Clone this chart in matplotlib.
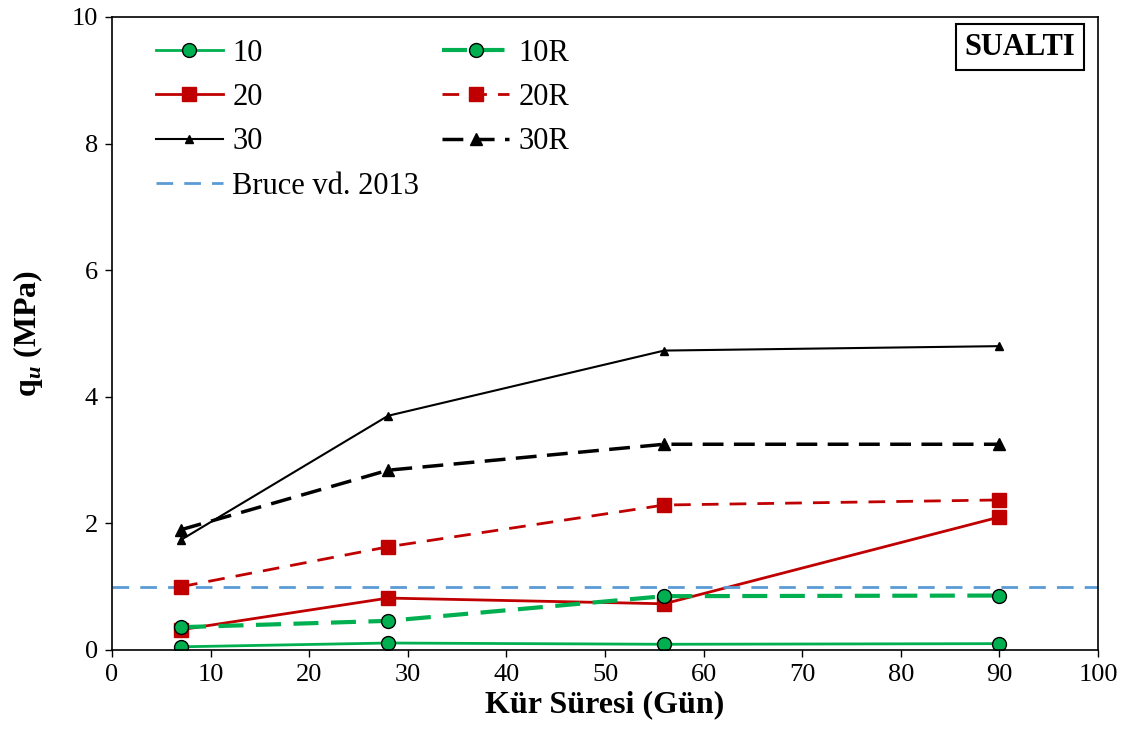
import matplotlib
matplotlib.use("Agg")
import matplotlib.pyplot as plt

plt.rcParams["font.family"] = ["Liberation Serif", "DejaVu Serif"]
plt.rcParams["mathtext.fontset"] = "custom"
plt.rcParams["mathtext.rm"] = "Liberation Serif"
plt.rcParams["mathtext.bf"] = "Liberation Serif:bold"
plt.rcParams["mathtext.bfit"] = "Liberation Serif:italic:bold"

days = [7, 28, 56, 90]
q_10 = [0.05, 0.11, 0.09, 0.10]
q_10r = [0.36, 0.46, 0.85, 0.86]
q_20 = [0.32, 0.82, 0.73, 2.10]
q_20r = [1.00, 1.63, 2.29, 2.37]
q_30 = [1.74, 3.70, 4.73, 4.80]
q_30r = [1.90, 2.84, 3.25, 3.25]
bruce = 1.0

green = "#00B050"
red = "#C00000"
blue = "#5B9BD5"

fig = plt.figure(figsize=(11.28, 7.29), dpi=100)
ax = fig.add_axes([0.0993, 0.1084, 0.8741, 0.8683])

ax.plot(days, q_10, color=green, lw=2, marker="o", ms=10, mfc=green, mec="black", mew=1, label="10")
ax.plot(days, q_20, color=red, lw=2, marker="s", ms=10, mfc=red, mec=red, label="20")
ax.plot(days, q_30, color="black", lw=1.5, marker="^", ms=6, label="30")
ax.axhline(bruce, color=blue, lw=2, dashes=(6, 4), label="Bruce vd. 2013")
ax.plot(days, q_10r, color=green, lw=3, dashes=(6, 3), marker="o", ms=10, mfc=green, mec="black", mew=1, label="10R")
ax.plot(days, q_20r, color=red, lw=2, dashes=(6, 4), marker="s", ms=10, mfc=red, mec=red, label="20R")
ax.plot(days, q_30r, color="black", lw=2.5, dashes=(6, 3), marker="^", ms=8, label="30R")

ax.set_xlim(0, 100)
ax.set_ylim(0, 10)
ax.set_xticks(range(0, 101, 10))
ax.set_yticks(range(0, 11, 2))
ax.tick_params(direction="out", labelsize=19, length=5, width=1, pad=5)
for s in ax.spines.values():
    s.set_linewidth(1.2)

ax.set_xlabel("Kür Süresi (Gün)", fontsize=23, fontweight="bold", labelpad=3)
ax.set_ylabel(r"$\mathbf{q}_\mathbfit{u}$ (MPa)", fontsize=23, fontweight="bold", labelpad=19)

ax.legend(ncol=2, loc="upper left", frameon=False, fontsize=22, handlelength=2.2,
          handletextpad=0.3, columnspacing=0.75, labelspacing=0.5,
          borderaxespad=0, bbox_to_anchor=(0.032, 0.985))

ax.text(0.977, 0.952, "SUALTI", transform=ax.transAxes, ha="right", va="center",
        fontsize=22, fontweight="bold",
        bbox=dict(boxstyle="square,pad=0.28", fc="white", ec="black", lw=1.5))

fig.savefig("out.png", dpi=100)
